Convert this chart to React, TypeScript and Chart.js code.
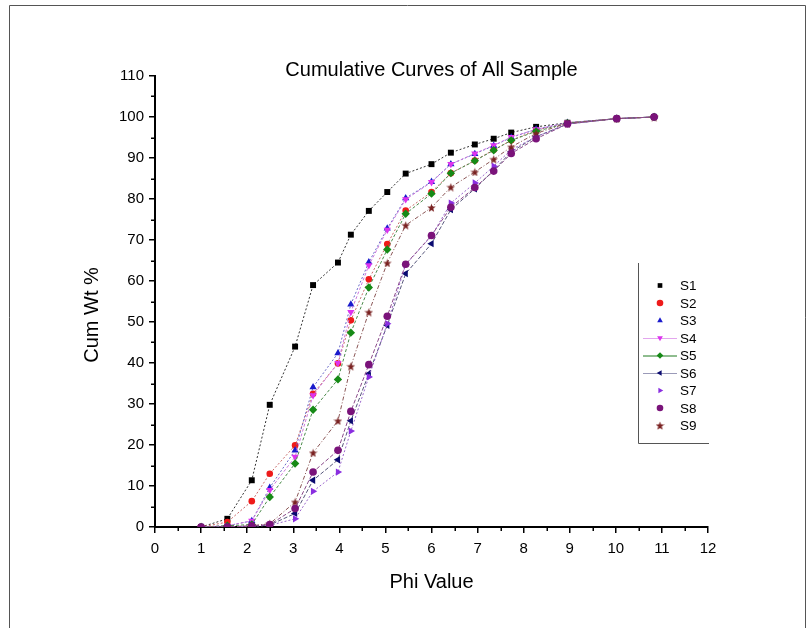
import React, { useEffect, useRef } from 'react';
import { Chart, registerables } from 'chart.js';
import { drawPoint } from 'chart.js/helpers';

Chart.register(...registerables);

const TITLE = 'Cumulative Curves of All Sample';
const X_TITLE = 'Phi Value';
const Y_TITLE = 'Cum Wt %';

const X_TICKS = [0, 1, 2, 3, 4, 5, 6, 7, 8, 9, 10, 11, 12];
const Y_TICKS = [0, 10, 20, 30, 40, 50, 60, 70, 80, 90, 100, 110];

const PHI = [1.0, 1.57, 2.1, 2.49, 3.04, 3.43, 3.97, 4.25, 4.64, 5.04, 5.44, 6.0, 6.42, 6.94, 7.35, 7.73, 8.27, 8.95, 10.02, 10.83];

const S1 = [0, 2.0, 11.4, 29.8, 44.0, 59.0, 64.5, 71.3, 77.1, 81.7, 86.2, 88.5, 91.3, 93.3, 94.7, 96.2, 97.6, 98.6, 99.6, 100];
const S2 = [0, 1.2, 6.3, 13.0, 19.9, 32.5, 39.9, 50.4, 60.4, 69.0, 77.2, 81.7, 86.3, 89.4, 92.0, 94.3, 96.8, 98.5, 99.6, 100];
const S3 = [0, 0.3, 1.5, 9.6, 18.7, 34.1, 42.4, 54.3, 64.6, 72.8, 80.2, 84.2, 88.5, 91.0, 93.0, 95.0, 97.0, 98.6, 99.6, 100];
const S4 = [0, 0.3, 1.5, 9.0, 17.1, 32.1, 40.0, 52.4, 63.8, 72.5, 79.9, 84.1, 88.5, 91.1, 93.1, 95.1, 97.0, 98.6, 99.6, 100];
const S5 = [0, 0.3, 0.6, 7.3, 15.5, 28.6, 36.0, 47.4, 58.4, 67.7, 76.4, 81.3, 86.3, 89.3, 91.9, 94.3, 96.5, 98.5, 99.6, 100];
const S6 = [0, 0, 0.2, 0.5, 3.3, 11.4, 16.4, 25.9, 37.4, 49.2, 61.8, 69.1, 77.4, 82.5, 87.0, 91.5, 95.2, 98.3, 99.6, 100];
const S7 = [0, 0, 0.2, 0.4, 2.0, 8.7, 13.4, 23.4, 36.6, 49.6, 64.0, 71.0, 79.0, 83.9, 88.0, 92.0, 95.2, 98.3, 99.6, 100];
const S8 = [0, 0, 0.3, 0.6, 4.5, 13.4, 18.7, 28.2, 39.6, 51.4, 64.1, 71.1, 78.0, 82.8, 86.8, 91.1, 94.7, 98.3, 99.6, 100];
const S9 = [0, 0, 0.3, 0.8, 6.1, 18.1, 25.9, 39.2, 52.4, 64.4, 73.6, 77.9, 82.9, 86.6, 89.7, 92.7, 96.0, 98.5, 99.6, 100];

const SERIES_NAMES = ['S1', 'S2', 'S3', 'S4', 'S5', 'S6', 'S7', 'S8', 'S9'];
const SERIES_VALUES = [S1, S2, S3, S4, S5, S6, S7, S8, S9];
const SERIES_COLORS = ['#000000', '#ee1a1a', '#1a1acc', '#dd33ee', '#168a16', '#0a0a70', '#8a2ee0', '#7a137a', '#7a2222'];
const SERIES_LINE_COLORS = ['#333333', '#c86a6a', '#6a6ac8', '#cc77dd', '#4a8a4a', '#55557a', '#9a66cc', '#8a4a8a', '#8a5555'];
const SERIES_STYLES = ['rect', 'circle', 'triangle', 'triangle', 'rectRot', 'triangle', 'triangle', 'circle', 'star'];
const SERIES_ROT = [0, 0, 0, 180, 0, -90, 90, 0, 0];
const SERIES_RADIUS = [4.2, 3.3, 4.2, 4.2, 4.2, 4.2, 4.2, 3.8, 4];
const SERIES_DASH = [[2, 2], [2, 2], [2, 2], [3, 2], [3, 2], [4, 2], [2, 2], [4, 2], [4, 2, 1, 2]];
const LEGEND_LINE = [null, null, null, '#e3a6ee', '#1e7a1e', '#9a9ab8', null, null, null];

const FONT = '"Liberation Sans", Arial, sans-serif';

function makeStar(color: string, size: number): HTMLCanvasElement {
  const c = document.createElement('canvas');
  c.width = size;
  c.height = size;
  const g = c.getContext('2d')!;
  const cx = size / 2, cy = size / 2 + 0.5;
  const R = size / 2, r = R * 0.42;
  g.beginPath();
  for (let i = 0; i < 10; i++) {
    const rad = i % 2 === 0 ? R : r;
    const a = -Math.PI / 2 + (i * Math.PI) / 5;
    const px = cx + rad * Math.cos(a);
    const py = cy + rad * Math.sin(a);
    if (i === 0) g.moveTo(px, py); else g.lineTo(px, py);
  }
  g.closePath();
  g.fillStyle = color;
  g.fill();
  return c;
}

export default function App() {
  const ref = useRef<HTMLCanvasElement | null>(null);

  useEffect(() => {
    if (!ref.current) return;
    const star = makeStar(SERIES_COLORS[8], 9);
    const styles: any[] = SERIES_STYLES.map((s) => (s === 'star' ? star : s));

    const datasets = SERIES_NAMES.map((name, i) => ({
      label: name,
      data: PHI.map((x, j) => ({ x, y: SERIES_VALUES[i][j] })),
      borderColor: SERIES_LINE_COLORS[i],
      backgroundColor: SERIES_COLORS[i],
      pointBackgroundColor: SERIES_COLORS[i],
      pointBorderColor: SERIES_COLORS[i],
      pointBorderWidth: 0,
      pointStyle: styles[i],
      rotation: SERIES_ROT[i],
      pointRadius: SERIES_RADIUS[i],
      borderWidth: 1,
      borderDash: SERIES_DASH[i],
      showLine: true,
      fill: false,
      tension: 0,
      order: i === 7 ? 0 : 9 - i,
    }));

    const decor = {
      id: 'decor',
      afterDraw(chart: any) {
        const ctx = chart.ctx as CanvasRenderingContext2D;
        const { left, right, bottom } = chart.chartArea;
        const xs = chart.scales.x;
        const ys = chart.scales.y;
        ctx.save();
        // minor ticks
        ctx.strokeStyle = '#000';
        ctx.lineWidth = 1.5;
        ctx.beginPath();
        for (let k = 0; k < X_TICKS.length - 1; k++) {
          const v = (X_TICKS[k] + X_TICKS[k + 1]) / 2;
          const px = Math.round(xs.getPixelForValue(v)) + 0.25;
          ctx.moveTo(px, bottom);
          ctx.lineTo(px, bottom + 4);
        }
        for (let k = 0; k < Y_TICKS.length - 1; k++) {
          const v = (Y_TICKS[k] + Y_TICKS[k + 1]) / 2;
          const py = Math.round(ys.getPixelForValue(v)) + 0.25;
          ctx.moveTo(left, py);
          ctx.lineTo(left - 4, py);
        }
        ctx.stroke();

        // texts
        ctx.fillStyle = '#000';
        ctx.textAlign = 'center';
        ctx.textBaseline = 'alphabetic';
        ctx.font = `20px ${FONT}`;
        ctx.fillText(TITLE, (left + right) / 2, 76);
        ctx.fillText(X_TITLE, (left + right) / 2, 588);
        ctx.save();
        ctx.translate(98, 315);
        ctx.rotate(-Math.PI / 2);
        ctx.fillText(Y_TITLE, 0, 0);
        ctx.restore();

        // legend frame (left & bottom edges)
        ctx.strokeStyle = '#555';
        ctx.lineWidth = 1;
        ctx.setLineDash([]);
        ctx.beginPath();
        ctx.moveTo(638.5, 263);
        ctx.lineTo(638.5, 443.5);
        ctx.lineTo(709, 443.5);
        ctx.stroke();

        // legend entries
        ctx.font = `13.5px ${FONT}`;
        ctx.textAlign = 'left';
        ctx.textBaseline = 'middle';
        SERIES_NAMES.forEach((name, i) => {
          const y = 285.5 + i * 17.5;
          const lc = LEGEND_LINE[i];
          if (lc) {
            ctx.strokeStyle = lc;
            ctx.lineWidth = 1;
            ctx.beginPath();
            ctx.moveTo(643, y + 0.5);
            ctx.lineTo(677, y + 0.5);
            ctx.stroke();
          }
          ctx.fillStyle = SERIES_COLORS[i];
          ctx.strokeStyle = SERIES_COLORS[i];
          drawPoint(ctx, {
            pointStyle: styles[i],
            rotation: SERIES_ROT[i],
            radius: styles[i] === star ? 3.5 : 3.3,
            borderWidth: 0,
          } as any, 660, y);
          ctx.fillStyle = '#000';
          ctx.fillText(name, 680, y + 1);
        });

        // outer frame
        ctx.strokeStyle = '#555';
        ctx.lineWidth = 1;
        ctx.beginPath();
        ctx.moveTo(9.5, 640);
        ctx.lineTo(9.5, 5.5);
        ctx.lineTo(805.5, 5.5);
        ctx.lineTo(805.5, 640);
        ctx.stroke();
        ctx.restore();
      },
    };

    const chart = new Chart(ref.current, {
      type: 'scatter',
      data: { datasets: datasets as any },
      plugins: [decor],
      options: {
        animation: false,
        responsive: false,
        maintainAspectRatio: false,
        layout: { padding: { top: 76, right: 99, left: 0, bottom: 0 } },
        plugins: {
          legend: { display: false },
          tooltip: { enabled: false },
          title: { display: false },
        },
        scales: {
          x: {
            type: 'linear',
            min: 0,
            max: 12,
            afterFit: (s: any) => { s.height = 101; },
            afterBuildTicks: (s: any) => { s.ticks = X_TICKS.map((v) => ({ value: v })); },
            ticks: {
              color: '#000',
              font: { family: FONT, size: 15 },
              padding: 7,
              maxRotation: 0,
              callback: (v: any) => String(v),
            },
            grid: {
              display: true,
              drawOnChartArea: false,
              drawTicks: true,
              tickLength: 6,
              color: '#000',
              lineWidth: 1.5,
            },
            border: { display: true, color: '#000', width: 2 },
          },
          y: {
            type: 'linear',
            min: 0,
            max: 110,
            afterFit: (s: any) => { s.width = 155; },
            afterBuildTicks: (s: any) => { s.ticks = Y_TICKS.map((v) => ({ value: v })); },
            ticks: {
              color: '#000',
              font: { family: FONT, size: 15 },
              padding: 5,
              callback: (v: any) => String(v),
            },
            grid: {
              display: true,
              drawOnChartArea: false,
              drawTicks: true,
              tickLength: 6,
              color: '#000',
              lineWidth: 1.5,
            },
            border: { display: true, color: '#000', width: 2 },
          },
        },
      },
    });
    return () => chart.destroy();
  }, []);

  return (
    <div style={{ position: 'absolute', left: 0, top: 0, width: 807, height: 628, background: '#fff' }}>
      <canvas ref={ref} width={807} height={628} style={{ display: 'block' }} />
    </div>
  );
}
